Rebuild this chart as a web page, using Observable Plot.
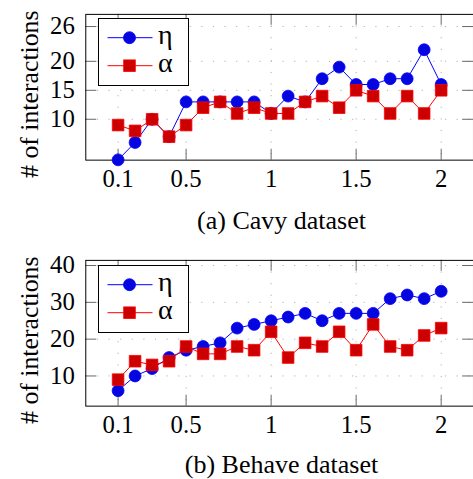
<!DOCTYPE html>
<html><head><meta charset="utf-8">
<script src="https://cdn.jsdelivr.net/npm/d3@7"></script>
<script src="https://cdn.jsdelivr.net/npm/@observablehq/plot@0.6"></script>
<style>
html,body{margin:0;padding:0;background:#fff;overflow:hidden;}
#wrap{position:relative;width:473px;height:479px;overflow:hidden;font-family:"Liberation Serif","Times New Roman",Times,serif;background:#fff;}
.panel{position:absolute;left:0;}
.panel svg{display:block;}
.cap{position:absolute;left:0;width:563px;text-align:center;font-size:26px;line-height:26px;color:#000;white-space:nowrap;}
.legend{position:absolute;background:#fff;border:1px solid #000;box-sizing:border-box;}
.legend svg{display:block;}
</style></head><body><div id="wrap"></div>
<script>
// ---- data ----
const xValues = [0.1,0.2,0.3,0.4,0.5,0.6,0.7,0.8,0.9,1.0,1.1,1.2,1.3,1.4,1.5,1.6,1.7,1.8,1.9,2.0];
const cavyEta   = [3,6,10,7,13,13,13,13,13,11,14,13,17,19,16,16,17,17,22,16];
const cavyAlpha = [9,8,10,7,9,12,13,11,12,11,11,13,14,12,15,14,11,14,11,15];
const behaveEta   = [6,10,12,15,17,18,19,23,24,25,26,27,25,27,27,27,31,32,31,33];
const behaveAlpha = [9,14,13,14,18,16,16,18,17,22,15,19,18,22,17,24,18,17,21,23];
const xTickValues = [0.1,0.5,1,1.5,2];
const cavyYTicks = [10,15,20,26];
const behaveYTicks = [10,20,30,40];
const seriesNames = ["η","α"];
const yLabel = "# of interactions";
const captions = ["(a) Cavy dataset","(b) Behave dataset"];

const FONT = "Liberation Serif";
const BLUE = "#0000ff", BLUE_FILL = "#0505e0", RED = "#ff0000", RED_FILL = "#cc0000";
const wrap = document.getElementById("wrap");

function chart(eta, alpha, yDomain, yTicks) {
  const W = 477, H = 200, mL = 86, mT = 14, mB = 39;
  const fw = W - mL, fh = H - mT - mB;
  const etaData = xValues.map((x, i) => ({x, y: eta[i]}));
  const alphaData = xValues.map((x, i) => ({x, y: alpha[i]}));
  const grid = {stroke: "#b0b0b0", strokeOpacity: 1, strokeDasharray: "1.2,10.5"};
  const tick = {stroke: "#666", strokeWidth: 1};
  return Plot.plot({
    width: W, height: H,
    marginLeft: mL, marginRight: 0, marginTop: mT, marginBottom: mB,
    style: {fontFamily: FONT, fontSize: "25px", background: "transparent", color: "#000"},
    x: {domain: [0.1 - 0.19, 2 + 0.19], label: null},
    y: {domain: yDomain, label: null},
    marks: [
      Plot.gridX(xTickValues, grid),
      Plot.gridY(yTicks, grid),
      Plot.tickX(xTickValues, {x: d => d, insetTop: fh - 11, ...tick}),
      Plot.tickX(xTickValues, {x: d => d, insetBottom: fh - 11, ...tick}),
      Plot.tickY(yTicks, {y: d => d, insetRight: fw - 11, ...tick}),
      Plot.tickY(yTicks, {y: d => d, insetLeft: fw - 11, ...tick}),
      Plot.frame({stroke: "#000", strokeWidth: 1}),
      Plot.axisX(xTickValues, {tickSize: 0, tickPadding: 9, fontSize: 25, fontFamily: FONT, label: null, tickFormat: d => String(d)}),
      Plot.axisY(yTicks, {tickSize: 0, tickPadding: 11, fontSize: 25, fontFamily: FONT, label: null}),
      Plot.text([yLabel], {text: d => d, frameAnchor: "left", textAnchor: "middle", dx: -57, dy: 7, rotate: -90, fontSize: 26, fontFamily: FONT}),
      Plot.line(etaData, {x: "x", y: "y", stroke: BLUE, strokeWidth: 1}),
      Plot.dot(etaData, {x: "x", y: "y", r: 6, fill: BLUE_FILL, stroke: BLUE, strokeWidth: 0.8}),
      Plot.line(alphaData, {x: "x", y: "y", stroke: RED, strokeWidth: 1}),
      Plot.dot(alphaData, {x: "x", y: "y", symbol: "square", r: 6.6, fill: RED_FILL, stroke: RED, strokeWidth: 0.8})
    ]
  });
}

function legend(top) {
  const div = document.createElement("div");
  div.className = "legend";
  div.style.left = "98px"; div.style.top = top + "px";
  div.style.width = "91px"; div.style.height = "68px";
  const svg = d3.create("svg").attr("width", 89).attr("height", 66);
  seriesNames.forEach((name, i) => {
    const y = 18.7 + 28 * i;
    const g = svg.append("g");
    g.append("line").attr("x1", 8.5).attr("x2", 53.5).attr("y1", y).attr("y2", y)
      .attr("stroke", i ? RED : BLUE).attr("stroke-width", 1);
    if (i === 0) {
      g.append("circle").attr("cx", 30.5).attr("cy", y).attr("r", 6)
        .attr("fill", BLUE_FILL).attr("stroke", BLUE).attr("stroke-width", 0.8);
    } else {
      g.append("rect").attr("x", 30.5 - 5.8).attr("y", y - 5.8).attr("width", 11.6).attr("height", 11.6)
        .attr("fill", RED_FILL).attr("stroke", RED).attr("stroke-width", 0.8);
    }
    g.append("text").attr("x", 59).attr("y", y + 6.5).attr("font-size", 28)
      .attr("font-family", FONT).attr("fill", "#000").text(name);
  });
  div.appendChild(svg.node());
  return div;
}

function panel(top, svg, capTop, capText, legTop) {
  const p = document.createElement("div");
  p.className = "panel"; p.style.top = top + "px";
  p.appendChild(svg);
  wrap.appendChild(p);
  wrap.appendChild(legend(legTop));
  const c = document.createElement("div");
  c.className = "cap"; c.style.top = capTop + "px";
  c.textContent = capText;
  wrap.appendChild(c);
}

panel(0, chart(cavyEta, cavyAlpha, [2.95, 28.1], cavyYTicks), 208, captions[0], 18);
panel(246, chart(behaveEta, behaveAlpha, [1.8, 41.4], behaveYTicks), 452, captions[1], 265);
</script></body></html>
